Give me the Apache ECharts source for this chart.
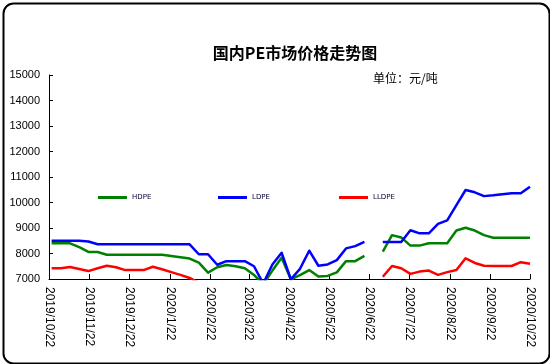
<!DOCTYPE html>
<html>
<head>
<meta charset="utf-8">
<script src="https://cdn.jsdelivr.net/npm/echarts@6/dist/echarts.min.js"></script>
<style>html,body{margin:0;padding:0;background:#fff}#c{width:550px;height:364px}</style>
</head>
<body>
<div id="c"></div>
<script>
const titleText = '国内PE市场价格走势图';
const unitText = '单位：元/吨';
const seriesNames = ['HDPE', 'LDPE', 'LLDPE'];
const tickLabels = ['2019/10/22','2019/11/22','2019/12/22','2020/1/22','2020/2/22','2020/3/22','2020/4/22','2020/5/22','2020/6/22','2020/7/22','2020/8/22','2020/9/22','2020/10/22'];
const dates = ['2019/10/24','2019/10/31','2019/11/7','2019/11/14','2019/11/21','2019/11/28','2019/12/5','2019/12/12','2019/12/19','2019/12/26',
  '2020/1/2','2020/1/9','2020/1/16','2020/1/23','2020/1/30','2020/2/6','2020/2/13','2020/2/20','2020/2/27','2020/3/5','2020/3/12','2020/3/19','2020/3/26',
  '2020/4/2','2020/4/9','2020/4/16','2020/4/23','2020/4/30','2020/5/7','2020/5/14','2020/5/21','2020/5/28','2020/6/4','2020/6/11','2020/6/18','2020/6/25',
  '2020/7/2','2020/7/9','2020/7/16','2020/7/23','2020/7/30','2020/8/6','2020/8/13','2020/8/20','2020/8/27','2020/9/3','2020/9/10','2020/9/17','2020/9/24',
  '2020/10/1','2020/10/8','2020/10/15','2020/10/22'];
const hdpe = [8400,8400,8400,8250,8060,8060,7950,7950,7950,7950,7950,7950,7950,7900,7850,7800,7640,7250,7460,7550,7500,7420,7160,6790,7330,7830,6990,7150,7350,7100,7120,7260,7700,7700,7910,null,8070,8720,8630,8310,8310,8400,8400,8400,8900,9010,8900,8720,8620,8620,8620,8620,8620];
const ldpe = [8500,8500,8500,8500,8470,8360,8360,8360,8360,8360,8360,8360,8360,8360,8360,8360,7970,7970,7560,7700,7700,7700,7500,6820,7570,8030,6990,7400,8110,7520,7570,7740,8200,8290,8460,null,8450,8450,8450,8910,8790,8790,9160,9300,9900,10490,10400,10250,10280,10320,10360,10360,10620];
const lldpe = [7420,7420,7470,7390,7310,7420,7520,7460,7350,7350,7350,7480,7380,7270,7160,7040,6850,
  null,null,null,null,null,null,null,null,null,null,null,null,null,null,null,null,null,null,null,
  7090,7510,7420,7200,7290,7330,7160,7270,7350,7810,7630,7520,7510,7510,7510,7660,7600];
const colors = ['#008000', '#0000ff', '#ff0000'];

const DAY = 86400000;
function toTime(s) { const p = s.split('/').map(Number); return Date.UTC(p[0], p[1] - 1, p[2]); }
const t0 = toTime(tickLabels[0]);
const toDay = s => Math.round((toTime(s) - t0) / DAY);
const tickDays = tickLabels.map(toDay);
const labelOf = {};
tickLabels.forEach((s, i) => { labelOf[tickDays[i]] = s; });
const pairs = arr => arr.map((v, i) => [toDay(dates[i]), v]);

const chart = echarts.init(document.getElementById('c'));
const legendBase = { orient: 'horizontal', top: 194, padding: 0, itemWidth: 29, itemHeight: 3, itemGap: 0, itemTextGap: 1, icon: 'rect',
  textStyle: { fontSize: 7, color: '#000033', fontFamily: 'DejaVu Sans' } };
chart.setOption({
  animation: false,
  backgroundColor: '#fff',
  title: [
    { text: titleText, left: 290, top: 40, textAlign: 'center', textStyle: { fontSize: 16, fontWeight: 'bold', color: '#000', fontFamily: 'Noto Sans CJK SC' } },
    { text: unitText, left: 368, top: 67, textStyle: { fontSize: 12, fontWeight: 'normal', color: '#000', fontFamily: 'Noto Sans CJK SC' } }
  ],
  legend: [
    Object.assign({}, legendBase, { left: 98, data: [seriesNames[0]] }),
    Object.assign({}, legendBase, { left: 218, data: [seriesNames[1]] }),
    Object.assign({}, legendBase, { left: 339, data: [seriesNames[2]] })
  ],
  grid: { left: 49, right: 20, top: 75, bottom: 85 },
  xAxis: {
    type: 'value',
    min: tickDays[0], max: tickDays[tickDays.length - 1],
    axisLine: { lineStyle: { color: '#000', width: 1 } },
    axisTick: { inside: true, length: 5, customValues: tickDays, lineStyle: { color: '#000' } },
    axisLabel: { customValues: tickDays, formatter: v => labelOf[v] || '', rotate: -90, margin: 8, fontSize: 12, color: '#000', fontFamily: 'Liberation Sans' },
    splitLine: { show: false }
  },
  yAxis: {
    type: 'value', min: 7000, max: 15000, interval: 1000,
    axisLine: { show: true, lineStyle: { color: '#000', width: 1 } },
    axisTick: { show: true, inside: true, length: 4, lineStyle: { color: '#000' } },
    axisLabel: { formatter: v => String(v), fontSize: 11, color: '#000', margin: 9, fontFamily: 'Liberation Sans' },
    splitLine: { show: false }
  },
  series: [hdpe, ldpe, lldpe].map((arr, i) => ({
    name: seriesNames[i], type: 'line', data: pairs(arr), showSymbol: false, symbol: 'none',
    connectNulls: false, clip: true,
    lineStyle: { color: colors[i], width: 2.5, join: 'round' }, itemStyle: { color: colors[i] }
  })),
  graphic: [{ type: 'rect', left: 1, top: 1, shape: { width: 546, height: 360, r: 10 }, style: { fill: 'none', stroke: '#000', lineWidth: 2 }, silent: true }]
});
</script>
</body>
</html>
